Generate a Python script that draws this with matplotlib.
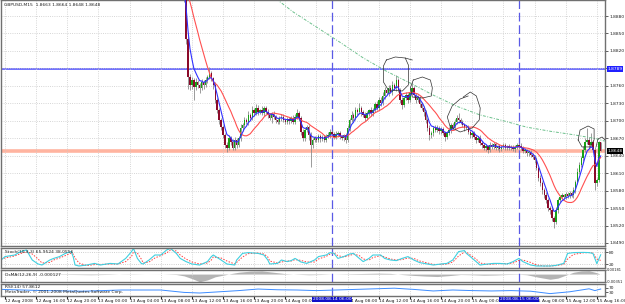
import numpy as np
import pandas as pd
import matplotlib
matplotlib.use("Agg")
import matplotlib.pyplot as plt

# GBPUSD M15, bar index 0 = 12 Aug 2008 12:00, closes in pips above 1.8500
first_bar = 80
close_pips = [
    448, 452, 446, 450, 444, 440, 443, 436, 432, 428, 430, 424, 410, 340, 275, 262,
    270, 258, 267, 261, 256, 267, 261, 270, 275, 282, 273, 261, 236, 218, 201, 189,
    175, 158, 153, 170, 164, 153, 167, 158, 170, 188, 193, 201, 198, 210, 205, 218,
    213, 222, 215, 218, 213, 222, 215, 210, 205, 212, 207, 201, 198, 205, 207, 201,
    198, 203, 199, 205, 198, 207, 213, 205, 181, 170, 184, 189, 175, 158, 167, 170,
    167, 174, 169, 172, 167, 174, 175, 181, 177, 172, 177, 179, 172, 170, 175, 167,
    188, 201, 210, 205, 218, 215, 222, 215, 210, 205, 213, 218, 213, 218, 229, 222,
    236, 230, 243, 253, 248, 256, 250, 261, 256, 270, 253, 236, 227, 239, 244, 236,
    250, 256, 244, 236, 239, 229, 222, 215, 201, 188, 175, 179, 188, 184, 188, 182,
    186, 179, 172, 179, 184, 193, 188, 198, 205, 201, 198, 193, 188, 189, 181, 175,
    179, 172, 167, 170, 162, 158, 153, 156, 149, 158, 155, 160, 153, 156, 151, 155,
    158, 153, 156, 153, 155, 151, 155, 158, 156, 153, 148, 149, 144, 146, 141, 138,
    133, 119, 102, 93, 81, 72, 64, 50, 47, 33, 26, 47, 64, 69, 72, 69,
    74, 71, 76, 72, 81, 95, 112, 124, 136, 150, 163, 167, 158, 163, 150, 93,
    98, 163, 148,
]
open_last = 163
wick_up = [
    4, 3, 5, 2, 3, 4, 2, 3, 4, 2, 3, 5, 8, 10, 6, 5,
    5, 4, 6, 3, 4, 5, 3, 6, 4, 10, 4, 3, 5, 3, 4, 3,
    3, 4, 5, 6, 3, 4, 5, 3, 4, 6, 4, 5, 3, 6, 4, 8,
    4, 6, 5, 3, 7, 4, 3, 5, 4, 3, 5, 3, 4, 3, 4, 5,
    3, 4, 3, 4, 5, 4, 8, 3, 4, 5, 3, 4, 3, 5, 4, 3,
    3, 4, 3, 4, 3, 4, 5, 4, 3, 4, 5, 4, 3, 4, 3, 4,
    5, 4, 6, 3, 5, 4, 8, 4, 3, 5, 4, 3, 5, 4, 4, 5,
    5, 4, 6, 5, 4, 6, 5, 7, 4, 9, 4, 3, 5, 4, 5, 3,
    6, 11, 4, 3, 5, 4, 3, 4, 3, 4, 5, 4, 3, 5, 4, 3,
    4, 3, 4, 3, 5, 4, 3, 5, 5, 9, 4, 3, 4, 3, 4, 3,
    4, 3, 4, 3, 5, 4, 3, 4, 3, 5, 4, 3, 4, 3, 4, 3,
    3, 4, 3, 4, 3, 4, 3, 4, 3, 6, 3, 4, 3, 4, 3, 4,
    3, 4, 3, 5, 4, 3, 5, 4, 3, 4, 3, 5, 4, 3, 4, 3,
    3, 4, 3, 4, 5, 4, 6, 5, 4, 6, 8, 21, 5, 16, 4, 5,
    4, 3, 1,
]
wick_dn = [
    3, 4, 2, 5, 3, 2, 4, 3, 2, 4, 3, 5, 6, 8, 20, 10,
    8, 22, 6, 5, 9, 4, 6, 3, 5, 3, 4, 6, 5, 4, 6, 5,
    5, 4, 6, 3, 5, 4, 3, 5, 3, 4, 5, 3, 4, 5, 3, 4,
    4, 3, 5, 4, 3, 5, 4, 6, 3, 8, 4, 5, 3, 4, 5, 3,
    4, 3, 5, 3, 4, 3, 4, 5, 6, 5, 4, 3, 8, 38, 5, 4,
    4, 3, 5, 3, 4, 3, 4, 5, 3, 4, 3, 5, 4, 3, 4, 5,
    4, 5, 3, 6, 4, 5, 3, 6, 4, 5, 3, 4, 5, 4, 3, 4,
    4, 5, 3, 6, 4, 5, 3, 6, 4, 5, 3, 5, 6, 4, 3, 5,
    4, 5, 3, 6, 4, 5, 3, 6, 4, 5, 8, 4, 5, 4, 3, 4,
    4, 3, 6, 4, 3, 5, 4, 3, 4, 5, 3, 4, 5, 3, 4, 5,
    4, 3, 5, 4, 3, 4, 3, 5, 4, 3, 4, 3, 4, 3, 4, 3,
    4, 3, 4, 3, 4, 3, 4, 3, 4, 3, 4, 3, 5, 4, 3, 4,
    5, 4, 6, 5, 7, 5, 6, 5, 8, 6, 10, 4, 5, 4, 3, 4,
    4, 3, 4, 3, 4, 5, 4, 3, 4, 5, 4, 3, 4, 3, 4, 12,
    5, 4, 0,
]

# long moving average (green dotted), read at a few bars
ma_long_bar = [136, 148, 160, 172, 184, 196, 208, 220, 232, 244, 256, 268, 280, 292, 304, 308]
ma_long_pips = [418, 387, 361, 335, 308, 285, 265, 244, 225, 210, 200, 189, 182, 176, 169, 165]

hline_blue = 1.8789
hline_orange = 1.8648
vline_bars = [168, 264]
vline_labels = ["2008.08.14 06:00", "2008.08.15 06:00"]

stoch_bar = [
    -2, 0, 5, 8, 11, 14, 17, 19, 23, 25, 28, 31, 34, 35, 36, 38, 42, 46, 49, 54,
    58, 62, 65, 66, 68, 70, 71, 74, 77, 80, 83, 85, 88, 90, 93, 96, 100, 104, 106, 107,
    111, 114, 118, 119, 122, 125, 130, 133, 135, 136, 140, 142, 145, 147, 149, 152, 155, 159, 161, 165,
    167, 169, 171, 174, 177, 179, 182, 184, 187, 189, 193, 195, 198, 201, 204, 207, 210, 213, 217, 220,
    224, 227, 230, 233, 236, 237, 239, 242, 244, 248, 251, 254, 258, 261, 264, 266, 270, 273, 277, 280,
    283, 287, 289, 292, 297, 300, 302, 304, 306,
]
stoch_k = [
    40, 57, 65, 82, 90, 40, 20, 15, 40, 48, 57, 73, 82, 57, 15, 10, 15, 23, 15, 23,
    20, 48, 82, 98, 48, 23, 20, 40, 65, 65, 90, 98, 73, 48, 32, 20, 15, 32, 57, 65,
    40, 20, 15, 40, 73, 77, 73, 65, 40, 20, 23, 40, 32, 37, 48, 30, 23, 40, 57, 65,
    77, 73, 48, 57, 70, 73, 48, 32, 48, 65, 65, 48, 40, 37, 48, 57, 40, 27, 20, 15,
    20, 23, 40, 82, 87, 73, 57, 32, 15, 20, 23, 23, 20, 32, 48, 32, 15, 10, 10, 10,
    13, 23, 73, 77, 78, 77, 73, 22, 66,
]
stoch_d = [
    45, 50, 60, 72, 82, 70, 45, 25, 28, 40, 50, 62, 75, 70, 50, 25, 12, 17, 18, 20,
    20, 32, 58, 80, 75, 45, 25, 30, 50, 62, 75, 90, 85, 65, 45, 30, 20, 25, 40, 55,
    50, 35, 20, 28, 55, 72, 75, 70, 55, 35, 25, 30, 35, 35, 42, 38, 30, 30, 45, 58,
    70, 75, 62, 55, 62, 70, 62, 45, 40, 52, 62, 55, 45, 40, 42, 50, 48, 35, 25, 18,
    18, 20, 30, 60, 80, 80, 65, 45, 25, 18, 20, 22, 22, 25, 38, 40, 28, 15, 10, 10,
    12, 18, 45, 68, 76, 77, 75, 45, 38,
]

osma_bar = [-2, 10, 20, 36, 44, 54, 60, 66, 72, 80, 88, 92, 96, 100, 104, 108, 112, 116, 120, 126,
            132, 136, 140, 144, 150, 156, 162, 168, 174, 180, 186, 192, 198, 204, 210, 216, 222, 228, 234, 240,
            246, 252, 258, 264, 268, 274, 280, 284, 288, 292, 296, 300, 304, 306]
osma_e4 = [0.5, 1, -0.5, -2, -3, -1.5, 0.5, 1, 0, 0.3, -2, -8, -20, -34, -26, -12, -5, 2, 8, 13,
           14, 10, 6, 2, -1, -3, -2, 0, 1, 2, 3, 4, 3, -2, -6, -9, -11, -7, -2, -3,
           -5, -4, -2, -1, -3, -14, -23, -18, -5, 8, 14, 15, 6, -1.27]

rsi_bar = [-2, 20, 40, 60, 80, 92, 100, 110, 120, 130, 140, 150, 160, 170, 180, 190, 200, 210, 220, 230,
           240, 250, 260, 270, 280, 290, 300, 303, 306]
rsi_val = [55, 45, 40, 50, 50, 30, 25, 35, 45, 58, 52, 50, 45, 50, 55, 60, 65, 55, 42, 50,
           45, 42, 45, 40, 20, 35, 60, 45, 58]

tick_bars = list(range(0, 307, 16))
tick_labels = ["12 Aug 2008", "12 Aug 16:00", "12 Aug 20:00", "13 Aug 00:00", "13 Aug 04:00",
               "13 Aug 08:00", "13 Aug 12:00", "13 Aug 16:00", "13 Aug 20:00", "14 Aug 00:00",
               "", "14 Aug 08:00", "14 Aug 12:00", "14 Aug 16:00", "14 Aug 20:00",
               "15 Aug 00:00", "", "15 Aug 08:00", "15 Aug 12:00", "15 Aug 16:00"]

price_ticks = [1.8490 + 0.003 * k for k in range(14)]

# ---------------------------------------------------------------- build series
bars = np.arange(first_bar, first_bar + len(close_pips))
close = 1.85 + np.array(close_pips) / 10000
opens = np.r_[close[0], close[:-1]]
opens[-1] = 1.85 + open_last / 10000
high = np.maximum(opens, close) + np.array(wick_up) / 10000
low = np.minimum(opens, close) - np.array(wick_dn) / 10000
ema_fast = pd.Series(close).ewm(span=5, adjust=False).mean()
sma_slow = pd.Series(close).rolling(14, min_periods=1).mean()

fig = plt.figure(figsize=(6.25, 3.04), dpi=100)
fs = 3.2
grid_kw = dict(color="#c8c8c8", linestyle=":", linewidth=0.6)
xlim = (-2.05, 308.2)

ax = fig.add_axes([0.0016, 0.1908, 0.9664, 0.8092])
ax_st = fig.add_axes([0.0016, 0.1184, 0.9664, 0.0658])
ax_os = fig.add_axes([0.0016, 0.0724, 0.9664, 0.0395])
ax_rsi = fig.add_axes([0.0016, 0.0263, 0.9664, 0.0395])

for a in (ax, ax_st, ax_os, ax_rsi):
    a.set_xlim(*xlim)
    a.set_facecolor("white")
    for s in a.spines.values():
        s.set_color("#707070")
        s.set_linewidth(1.0)
    a.set_xticks(tick_bars)
    a.grid(True, axis="x", **grid_kw)
    a.tick_params(axis="x", labelbottom=False, length=0)
    a.yaxis.tick_right()
    a.tick_params(axis="y", labelsize=fs, length=2, pad=1, colors="#202020", width=0.5)
    for vb in vline_bars:
        a.axvline(vb, color="#5a5ae6", linewidth=0.9, dashes=(7, 3))

# ---------------------------------------------------------------- main chart
ax.set_ylim(1.84848, 1.89075)
ax.set_yticks(price_ticks)
# the 1.8790 label sits under the highlighted 1.8789 line label
ax.set_yticklabels(["" if abs(p - hline_blue) < 0.0005 else f"{p:.4f}" for p in price_ticks])
ax.grid(True, axis="y", **grid_kw)

ax.axhline(hline_orange, color="#ffb4a0", linewidth=2.6, zorder=1)
ax.axhline(hline_blue, color="#7070ff", linewidth=1.4, zorder=1)

ax.vlines(bars, low, high, color="#8a8a8a", linewidth=0.6, zorder=2)
up = close >= opens
ax.bar(bars[up], (close - opens)[up], bottom=opens[up], width=0.75, color="#17a117", zorder=3)
ax.bar(bars[~up], (close - opens)[~up], bottom=opens[~up], width=0.75, color="#8b0a2a", zorder=3)

ax.plot(ma_long_bar, 1.85 + np.array(ma_long_pips) / 10000, color="#6cc08c",
        linewidth=0.7, dashes=(3, 1.5, 1, 1.5), zorder=2)
ax.plot(bars, sma_slow, color="#ff5050", linewidth=0.8, zorder=4)
ax.plot(bars, ema_fast, color="#3030ff", linewidth=0.8, zorder=4)

# hand-drawn circles (bar, price)
sketches = [
    [(195.9, 1.88044), (200.5, 1.88096), (205.6, 1.88078), (207.2, 1.87958), (207.2, 1.87615),
     (204.1, 1.87511), (196.9, 1.87529), (194.4, 1.87666), (194.4, 1.87941), (195.9, 1.88044)],
    [(205.6, 1.88078), (209.2, 1.88044)],
    [(209.7, 1.8770), (214.4, 1.87752), (218.5, 1.8770), (219.5, 1.87563), (219.0, 1.87426),
     (214.4, 1.87391), (209.2, 1.87408), (208.2, 1.87563), (209.7, 1.8770)],
    [(235.4, 1.87408), (239.0, 1.87494), (242.1, 1.87426), (244.1, 1.87219), (243.6, 1.87013),
     (240.0, 1.86876), (233.8, 1.86807), (228.7, 1.86893), (227.2, 1.87065), (229.7, 1.87254),
     (233.8, 1.87374), (237.9, 1.87426)],
    [(294.4, 1.8667), (295.4, 1.86841), (299.5, 1.8691), (302.6, 1.86859), (302.6, 1.8667),
     (300.5, 1.8655), (296.4, 1.8655), (294.4, 1.8667)],
    [(303.6, 1.8655), (304.6, 1.86687), (306.7, 1.86721), (308.2, 1.8667)],
]
for pts in sketches:
    xs, ys = zip(*pts)
    ax.plot(xs, ys, color="#303030", linewidth=0.5, zorder=5)

trans = ax.get_yaxis_transform()
ax.text(1.004, hline_blue, f"{hline_blue:.4f}", transform=trans, fontsize=fs, color="white",
        va="center", ha="left", bbox=dict(facecolor="#2020ff", edgecolor="none", pad=0.5),
        clip_on=False, zorder=10)
ax.text(1.004, close[-1], f"{close[-1]:.4f}", transform=trans, fontsize=fs, color="white",
        va="center", ha="left", bbox=dict(facecolor="#000000", edgecolor="none", pad=0.5),
        clip_on=False, zorder=10)

fig.text(0.006, 1 - 5 / 304, "GBPUSD,M15  1.8663 1.8664 1.8648 1.8648", fontsize=fs,
         color="#202020", va="center")

# ---------------------------------------------------------------- stochastic
ax_st.set_ylim(0, 100)
ax_st.set_yticks([20, 80])
ax_st.set_yticklabels(["20", "80"])
for lv in (20, 80):
    ax_st.axhline(lv, color="#c0c0c0", linestyle=":", linewidth=0.6)
ax_st.plot(stoch_bar, stoch_d, color="#ff4040", linewidth=0.7, dashes=(1.5, 1.5))
ax_st.plot(stoch_bar, stoch_k, color="#40d0e0", linewidth=0.8)
ax_st.text(0.006, 0.78, f"Stoch(10,3,3) {65.9524:.4f} {38.0556:.4f}", transform=ax_st.transAxes,
           fontsize=fs, color="#202020", va="center")

# ---------------------------------------------------------------- OsMA
osma = np.array(osma_e4) / 10000
ax_os.set_ylim(-0.00351, 0.00181)
ax_os.set_yticks([0.00181, -0.00351])
ax_os.set_yticklabels(["0.00181", "-0.00351"])
ax_os.tick_params(axis="y", labelsize=2.6, pad=0.5, length=1)
ax_os.fill_between(osma_bar, 0, osma, color="#b4b4b4", linewidth=0)
ax_os.text(0.006, 0.6, "OsMA(12,26,9) -0.000127", transform=ax_os.transAxes,
           fontsize=fs, color="#202020", va="center")

# ---------------------------------------------------------------- RSI
ax_rsi.set_ylim(0, 100)
ax_rsi.set_yticks([70, 30])
ax_rsi.set_yticklabels(["70", "30"])
ax_rsi.plot(rsi_bar, rsi_val, color="#3c8cff", linewidth=0.7)
ax_rsi.text(0.006, 0.75, "RSI(14) 57.8612", transform=ax_rsi.transAxes,
            fontsize=fs, color="#202020", va="center")
ax_rsi.text(0.006, 0.35, "MetaTrader, \u00a9 2001-2008 MetaQuotes Software Corp.",
            transform=ax_rsi.transAxes, fontsize=fs, color="#202020", va="center")

ax_rsi.tick_params(axis="x", labelbottom=True, length=2, labelsize=fs, pad=0.5, colors="#202020")
ax_rsi.set_xticklabels(tick_labels)
for lab in ax_rsi.get_xticklabels():
    lab.set_ha("left")

for vb, txt in zip(vline_bars, vline_labels):
    ax_rsi.text(vb, -0.12, txt, transform=ax_rsi.get_xaxis_transform(), fontsize=fs, color="white",
                ha="center", va="top", bbox=dict(facecolor="#1010c8", edgecolor="none", pad=0.5),
                clip_on=False)

fig.savefig("out.png", dpi=100, facecolor="white")
